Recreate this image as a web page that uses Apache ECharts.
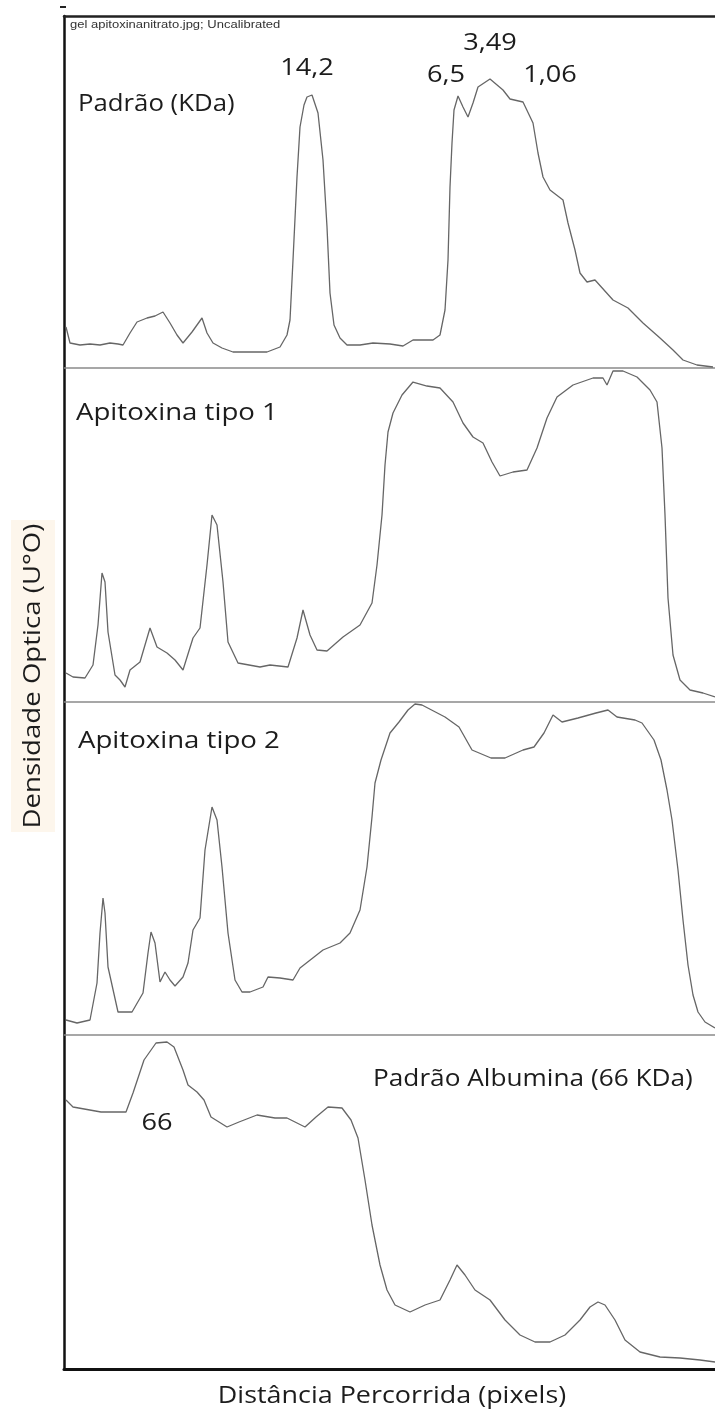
<!DOCTYPE html>
<html><head><meta charset="utf-8">
<script src="https://cdn.jsdelivr.net/npm/echarts@6/dist/echarts.min.js"></script>
<style>html,body{margin:0;padding:0;background:#fff}#c{width:715px;height:1414px}</style>
</head><body><div id="c"></div>
<script>
// Panel titles / annotations
const panelTitles = ['Padrão (KDa)', 'Apitoxina tipo 1', 'Apitoxina tipo 2', 'Padrão Albumina (66 KDa)'];
const markerLabels = ['14,2', '6,5', '3,49', '1,06', '66'];
const xTitle = 'Distância Percorrida (pixels)';
const yTitle = 'Densidade Optica (U°O)';
const fileNote = 'gel apitoxinanitrato.jpg; Uncalibrated';

// Panel 1: Padrão (KDa)
const p1Dist = [2,6,16,26,36,46,54,59,66,73,83,91,99,106,113,119,128,138,143,149,158,169,186,203,216,223,226,229,233,236,240,243,248,254,259,263,266,270,276,283,296,309,326,339,349,369,376,381,384,386,388,390,394,399,404,409,414,426,439,446,459,469,474,479,486,499,504,511,516,523,531,549,564,579,596,609,619,633,649];
const p1Dens = [41,25,23,24,23,25,24,23,35,46,50,52,56,45,33,25,36,50,35,25,20,16,16,16,21,33,48,108,191,241,263,271,273,255,208,141,75,43,30,23,23,25,24,22,28,28,33,58,108,181,225,258,272,261,251,265,281,289,278,269,266,245,215,191,178,168,145,118,95,86,88,68,60,45,30,18,8,3,1];

// Panel 2: Apitoxina tipo 1
const p2Dist = [2,9,21,29,34,38,41,44,51,56,61,66,76,86,93,103,111,119,129,136,143,148,153,159,164,174,196,206,224,233,239,246,253,263,279,296,308,313,318,321,324,329,338,349,363,376,389,399,409,419,428,436,449,463,473,483,493,509,529,539,543,549,559,573,586,593,598,601,604,609,616,626,639,651];
const p2Dens = [29,25,24,37,77,129,120,70,27,22,15,32,40,74,55,49,42,32,64,74,137,187,177,120,60,39,35,37,35,64,92,67,52,51,65,77,99,137,187,237,270,289,307,320,316,314,300,279,265,259,240,226,230,232,254,284,305,317,324,324,317,331,331,325,312,300,254,187,104,47,22,12,9,5];

// Panel 3: Apitoxina tipo 2
const p3Dist = [2,13,26,33,36,39,41,44,54,68,79,84,87,91,96,101,106,111,119,124,129,136,141,148,153,158,164,171,178,186,199,204,216,229,236,259,276,286,296,303,308,311,317,326,335,344,351,358,381,395,408,427,441,459,470,480,489,498,514,532,544,553,571,578,590,597,603,608,614,619,624,629,634,641,651];
const p3Dens = [15,12,15,52,102,137,122,68,23,23,42,82,103,92,53,63,55,49,58,72,105,117,185,228,215,168,102,55,43,43,48,58,57,55,67,85,92,102,125,168,218,252,275,302,313,325,331,330,318,308,285,277,277,285,288,302,320,313,317,322,325,318,315,312,295,275,245,215,165,115,70,40,23,13,7];

// Panel 4: Padrão Albumina (66 KDa)
const p4Dist = [2,9,37,62,69,80,92,103,110,119,124,133,140,147,163,175,193,211,223,241,252,264,278,287,294,301,308,316,323,331,346,361,376,386,393,401,411,426,441,456,471,486,501,516,526,534,541,551,561,576,596,616,636,651];
const p4Dens = [269,262,257,257,276,309,326,327,322,299,284,277,269,252,242,247,254,251,251,242,252,262,261,249,231,189,144,104,79,64,57,64,69,89,104,94,79,69,49,34,27,27,34,49,62,67,64,49,29,17,12,11,9,7];

const panelDist = [p1Dist, p2Dist, p3Dist, p4Dist];
const panelDens = [p1Dens, p2Dens, p3Dens, p4Dens];

// layout
const panelTops = [16, 368, 702, 1035];
const panelHeights = [352, 334, 333, 334];
const FRAME_L = 64;
const TEXT_COLOR = '#1c1c1c';
const LINE_COLOR = '#666666';
const FONT = '"Open Sans", "Noto Sans", sans-serif';

const grids = [], xAxes = [], yAxes = [], series = [];
for (let i = 0; i < 4; i++) {
  grids.push({ left: FRAME_L, right: 0, top: panelTops[i], height: panelHeights[i], containLabel: false });
  const last = i === 3;
  xAxes.push({
    type: 'value', gridIndex: i, min: 0, max: 651, position: 'bottom',
    axisLine: { show: true, onZero: false, lineStyle: { color: last ? '#111' : '#8a8a8a', width: last ? 3 : 1.5 } },
    axisTick: { show: false }, axisLabel: { show: false }, splitLine: { show: false }
  });
  yAxes.push({
    type: 'value', gridIndex: i, min: 0, max: panelHeights[i],
    axisLine: { show: true, onZero: false, lineStyle: { color: '#111', width: 2.5 } },
    axisTick: { show: false }, axisLabel: { show: false }, splitLine: { show: false }
  });
  series.push({
    type: 'line', xAxisIndex: i, yAxisIndex: i, showSymbol: false, smooth: false,
    lineStyle: { color: LINE_COLOR, width: 1.3 },
    data: panelDist[i].map((d, k) => [d, panelDens[i][k]]),
    silent: true, animation: false
  });
}
// top frame border
xAxes.push({
  type: 'value', gridIndex: 0, min: 0, max: 651, position: 'top',
  axisLine: { show: true, onZero: false, lineStyle: { color: '#222', width: 2.5 } },
  axisTick: { show: false }, axisLabel: { show: false }, splitLine: { show: false }
});

function txt(x, y, s, size, sx, extra) {
  return {
    type: 'text', x: x, y: y, scaleX: sx, silent: true,
    style: Object.assign({ text: s, fill: TEXT_COLOR, font: size + 'px ' + FONT, textAlign: 'left', textVerticalAlign: 'middle' }, extra || {})
  };
}

const graphics = [
  { type: 'rect', shape: { x: 60, y: 6, width: 6, height: 2 }, style: { fill: '#222' }, silent: true },
  txt(70, 25, fileNote, 10, 1.3, { fill: '#333', font: '10px "Liberation Sans", Arial, sans-serif' }),
  txt(78, 104, panelTitles[0], 23, 1.12),
  txt(307, 68, markerLabels[0], 23, 1.18, { textAlign: 'center' }),
  txt(446, 75, markerLabels[1], 23, 1.18, { textAlign: 'center' }),
  txt(490, 43, markerLabels[2], 23, 1.18, { textAlign: 'center' }),
  txt(550, 75, markerLabels[3], 23, 1.18, { textAlign: 'center' }),
  txt(76, 413, panelTitles[1], 23, 1.2),
  txt(78, 741, panelTitles[2], 23, 1.2),
  txt(373, 1079, panelTitles[3], 23, 1.14),
  txt(157, 1123, markerLabels[4], 23, 1.18, { textAlign: 'center' }),
  txt(392, 1396, xTitle, 23, 1.17, { textAlign: 'center' }),
  { type: 'rect', shape: { x: 11, y: 520, width: 44, height: 312 }, style: { fill: '#fdf6ec' }, silent: true },
  { type: 'text', x: 33, y: 676, rotation: Math.PI / 2, scaleX: 1.2, silent: true,
    style: { text: yTitle, fill: TEXT_COLOR, font: '23px ' + FONT, textAlign: 'center', textVerticalAlign: 'middle' } }
];

const chart = echarts.init(document.getElementById('c'), null, { renderer: 'canvas' });
chart.setOption({
  backgroundColor: '#ffffff',
  animation: false,
  grid: grids, xAxis: xAxes, yAxis: yAxes, series: series,
  graphic: graphics
});
</script>
</body></html>
